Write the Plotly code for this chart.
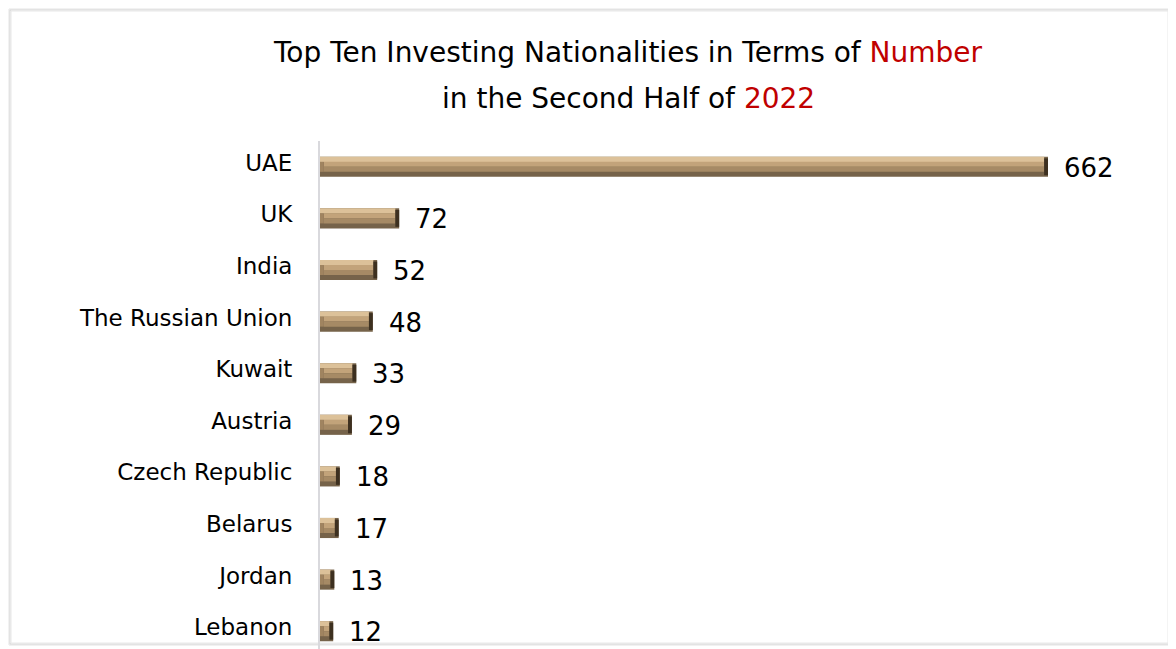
import plotly.graph_objects as go

countries = ["UAE", "UK", "India", "The Russian Union", "Kuwait", "Austria",
             "Czech Republic", "Belarus", "Jordan", "Lebanon"]
values = [662, 72, 52, 48, 33, 29, 18, 17, 13, 12]

OFF = 8  # page body margin
W, H = 1176, 649
ML, MR, MT, MB = 320 - OFF, 34, 141 - OFF, OFF
PW, PH = W - ML - MR, H - MT - MB
XMAX = PW / (728 / 662)
FONT = "DejaVu Sans, sans-serif"

inset = 3.5
BW = 0.39
n = len(values)


def bar(x, color, off_frac, w_frac, base=None):
    return go.Bar(y=countries, x=x, base=base, orientation="h",
                  width=BW * w_frac, offset=BW * off_frac,
                  marker=dict(color=color, line=dict(width=0)),
                  hoverinfo="skip", showlegend=False)


fig = go.Figure()
# base (bottom bevel)
fig.add_trace(bar(values, "#76634a", -0.5, 1.0))
# light top bevel
fig.add_trace(bar([v - inset for v in values], "#dcc199", -0.5, 0.26))
# face upper / lower
fig.add_trace(bar([v - 2 * inset for v in values], "#c2a37a", -0.25, 0.25, base=[inset] * n))
fig.add_trace(bar([v - 2 * inset for v in values], "#a68a65", 0.0, 0.25, base=[inset] * n))
# left bevel
fig.add_trace(bar([inset] * n, "#a08460", -0.25, 0.5))
# right end (dark)
fig.add_trace(bar([inset] * n, "#3d3020", -0.42, 0.84, base=[v - inset for v in values]))

annotations = [
    dict(xref="paper", yref="paper", x=(628 - OFF - ML) / PW, y=1 + (MT - (52 - OFF)) / PH,
         xanchor="center", yanchor="middle", showarrow=False,
         text="Top Ten Investing Nationalities in Terms of <span style='color:#c00000'>Number</span>",
         font=dict(family=FONT, size=28, color="#000000")),
    dict(xref="paper", yref="paper", x=(628 - OFF - ML) / PW, y=1 + (MT - (99 - OFF)) / PH,
         xanchor="center", yanchor="middle", showarrow=False,
         text="in the Second Half of <span style='color:#c00000'>2022</span>",
         font=dict(family=FONT, size=28, color="#000000")),
]
# value labels
for c, v in zip(countries, values):
    annotations.append(dict(x=v, y=c, xref="x", yref="y", text=str(v), showarrow=False,
                            xanchor="left", yanchor="middle", xshift=14, yshift=-1,
                            font=dict(family=FONT, size=26, color="#000000")))

fig.update_layout(
    width=W, height=H,
    margin=dict(l=ML, r=MR, t=MT, b=MB, pad=0),
    barmode="overlay",
    plot_bgcolor="white", paper_bgcolor="white",
    font=dict(family=FONT, color="#000000"),
    xaxis=dict(range=[0, XMAX], visible=False, showgrid=False, zeroline=False),
    yaxis=dict(categoryorder="array", categoryarray=countries,
               range=[9.345, -0.5], showline=True, linecolor="#d9d9dd", linewidth=2,
               showgrid=False, zeroline=False, ticks="", ticklabelstandoff=21,
               ticklabelshift=4,
               tickfont=dict(family=FONT, size=23, color="#000000")),
    annotations=annotations,
)


def px(x):
    return (x - OFF - ML) / PW


def py(y):
    return 1 - (y - OFF - MT) / PH


shapes = []
# frame with soft shadow
for i, c in enumerate(["#e4e4e4", "#d4d4d4", "#e8e8e8"]):
    shapes.append(dict(type="rect", xref="paper", yref="paper",
                       x0=px(9 + i), x1=px(1170 - i), y0=py(645 - i), y1=py(9 + i),
                       line=dict(color=c, width=1), fillcolor="rgba(0,0,0,0)", layer="below"))
fig.update_layout(shapes=shapes)

fig.write_html("out.html")
